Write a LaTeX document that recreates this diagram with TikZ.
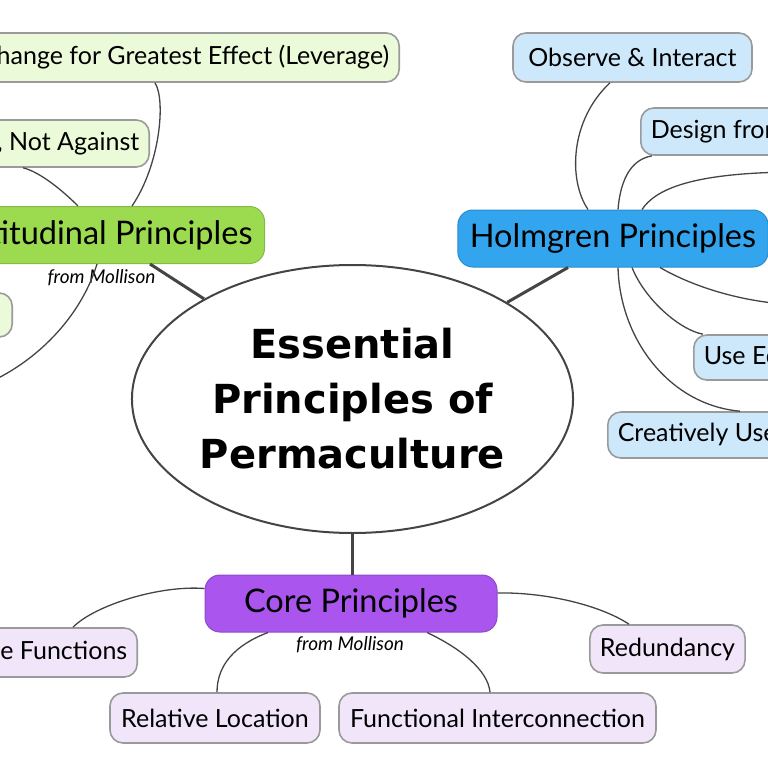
\documentclass[tikz,border=0pt]{standalone}
\usepackage{fontspec}
\setmainfont{Lato}
\newfontfamily\titlefont{DejaVu Sans}
\usetikzlibrary{shapes.geometric}
\definecolor{boxgray}{HTML}{9A9A9A}
\definecolor{linkgray}{HTML}{444444}
\definecolor{leafgreen}{HTML}{EBFAD8}
\definecolor{leafblue}{HTML}{CDE8FA}
\definecolor{leafpurple}{HTML}{F1E5FA}
\definecolor{attgreen}{HTML}{9CDB50}
\definecolor{holmblue}{HTML}{33A5EE}
\definecolor{corepurple}{HTML}{A955EE}
\tikzset{
  leaf/.style={draw=boxgray,line width=1.6pt,rounded corners=13pt,minimum height=48pt,inner xsep=10pt,font=\fontsize{25}{29}\selectfont},
  branch/.style={fill=#1,draw=#1!85!black,line width=1pt,rounded corners=15pt,minimum height=57pt,inner xsep=12pt,font=\fontsize{32.5}{36}\selectfont},
  link/.style={draw=linkgray,line width=1.3pt},
  stem/.style={draw=linkgray,line width=3pt},
  source/.style={font=\fontsize{19}{21}\selectfont\itshape,inner sep=0pt}
}
\begin{document}
\begin{tikzpicture}[x=1pt,y=-1pt]
\useasboundingbox (0,0) rectangle (768,768);
\clip (0,0) rectangle (768,768);
\node[draw=linkgray,line width=2pt,ellipse,minimum width=439pt,minimum height=268pt,align=center,font=\fontsize{40}{55}\selectfont\titlefont\bfseries] (central) at (352.5,399) {Essential\\Principles of\\Permaculture};

\node[branch=attgreen,anchor=east] (attitude) at (265,235) {Attitudinal Principles};
\node[source] (attsrc) at (101.5,278) {from Mollison};
\node[leaf,fill=leafgreen,anchor=east,minimum height=49pt] (lever) at (400,57.5) {Least Change for Greatest Effect (Leverage)};
\node[leaf,fill=leafgreen,anchor=east,minimum height=47pt] (nature) at (150,143.5) {Work with Nature, Not Against};
\node[leaf,fill=leafgreen,anchor=east,minimum width=150pt,minimum height=44pt] (attmore) at (13,315) {};
\coordinate (attoff) at (-30,390);

\node[branch=holmblue,minimum width=306pt] (holm) at (613,238.5) {Holmgren Principles};
\node[leaf,fill=leafblue,minimum width=239pt,minimum height=49pt] (observe) at (632.5,57.5) {Observe \& Interact};
\node[leaf,fill=leafblue,anchor=west,minimum height=47pt] (design) at (640,131.5) {Design from Patterns to Details};
\node[leaf,fill=leafblue,anchor=west,minimum height=45pt] (edges) at (693,357.5) {Use Edges \& Value the Marginal};
\node[leaf,fill=leafblue,anchor=west,minimum height=46pt] (change) at (607,435) {Creatively Use \& Respond to Change};
\coordinate (holmoffA) at (800,172);
\coordinate (holmoffB) at (800,305);

\node[branch=corepurple,minimum width=292pt] (core) at (351,603.5) {Core Principles};
\node[source] (coresrc) at (350,645) {from Mollison};
\node[leaf,fill=leafpurple,anchor=east,minimum height=49pt] (functions) at (138,652.5) {Multiple Functions};
\node[leaf,fill=leafpurple,minimum width=210pt,minimum height=50pt] (location) at (215,718) {Relative Location};
\node[leaf,fill=leafpurple,minimum width=317pt,minimum height=50pt] (interconn) at (497.5,718) {Functional Interconnection};
\node[leaf,fill=leafpurple,minimum width=153pt,minimum height=48pt] (redund) at (667.5,649) {Redundancy};

\draw[stem] (central.146) -- ([xshift=-115pt]attitude.south east);
\draw[stem] (central.32) -- ([xshift=-45pt]holm.south);
\draw[stem] (central.south) -- (central.south |- core.north);

\draw[link] ([xshift=-133pt]attitude.north east) .. controls (160,165) and (166,100) .. ([xshift=-245pt]lever.south east);
\draw[link] ([xshift=-187pt]attitude.north east) .. controls (62,190) and (40,172) .. ([xshift=-127pt]nature.south east);
\draw[link] ([xshift=-168pt]attitude.south east) .. controls (80,320) and (30,370) .. (attoff);

\draw[link] ([xshift=-25pt]holm.north) .. controls (568,180) and (570,120) .. ([xshift=-22.5pt]observe.south);
\draw[link] ([xshift=5pt]holm.north) .. controls (620,185) and (628,160) .. ([xshift=12pt]design.south west);
\draw[link] ([xshift=29pt]holm.north) .. controls (655,190) and (690,172) .. (holmoffA);
\draw[link] ([xshift=47pt]holm.south) .. controls (690,285) and (740,303) .. (holmoffB);
\draw[link] ([xshift=19pt]holm.south) .. controls (645,300) and (680,330) .. ([xshift=10pt]edges.north west);
\draw[link] ([xshift=5pt]holm.south) .. controls (620,340) and (670,405) .. ([xshift=133pt]change.north west);

\draw[link] ([yshift=15pt]core.west) .. controls (160,585) and (95,605) .. ([xshift=-65pt]functions.north east);
\draw[link] ([xshift=-83pt]core.south) .. controls (235,645) and (217,665) .. ([xshift=2pt]location.north);
\draw[link] ([xshift=76pt]core.south) .. controls (460,648) and (488,670) .. ([xshift=-7.5pt]interconn.north);
\draw[link] ([yshift=10.5pt]core.east) .. controls (545,592) and (600,605) .. ([xshift=-38.5pt]redund.north);
\end{tikzpicture}
\end{document}
